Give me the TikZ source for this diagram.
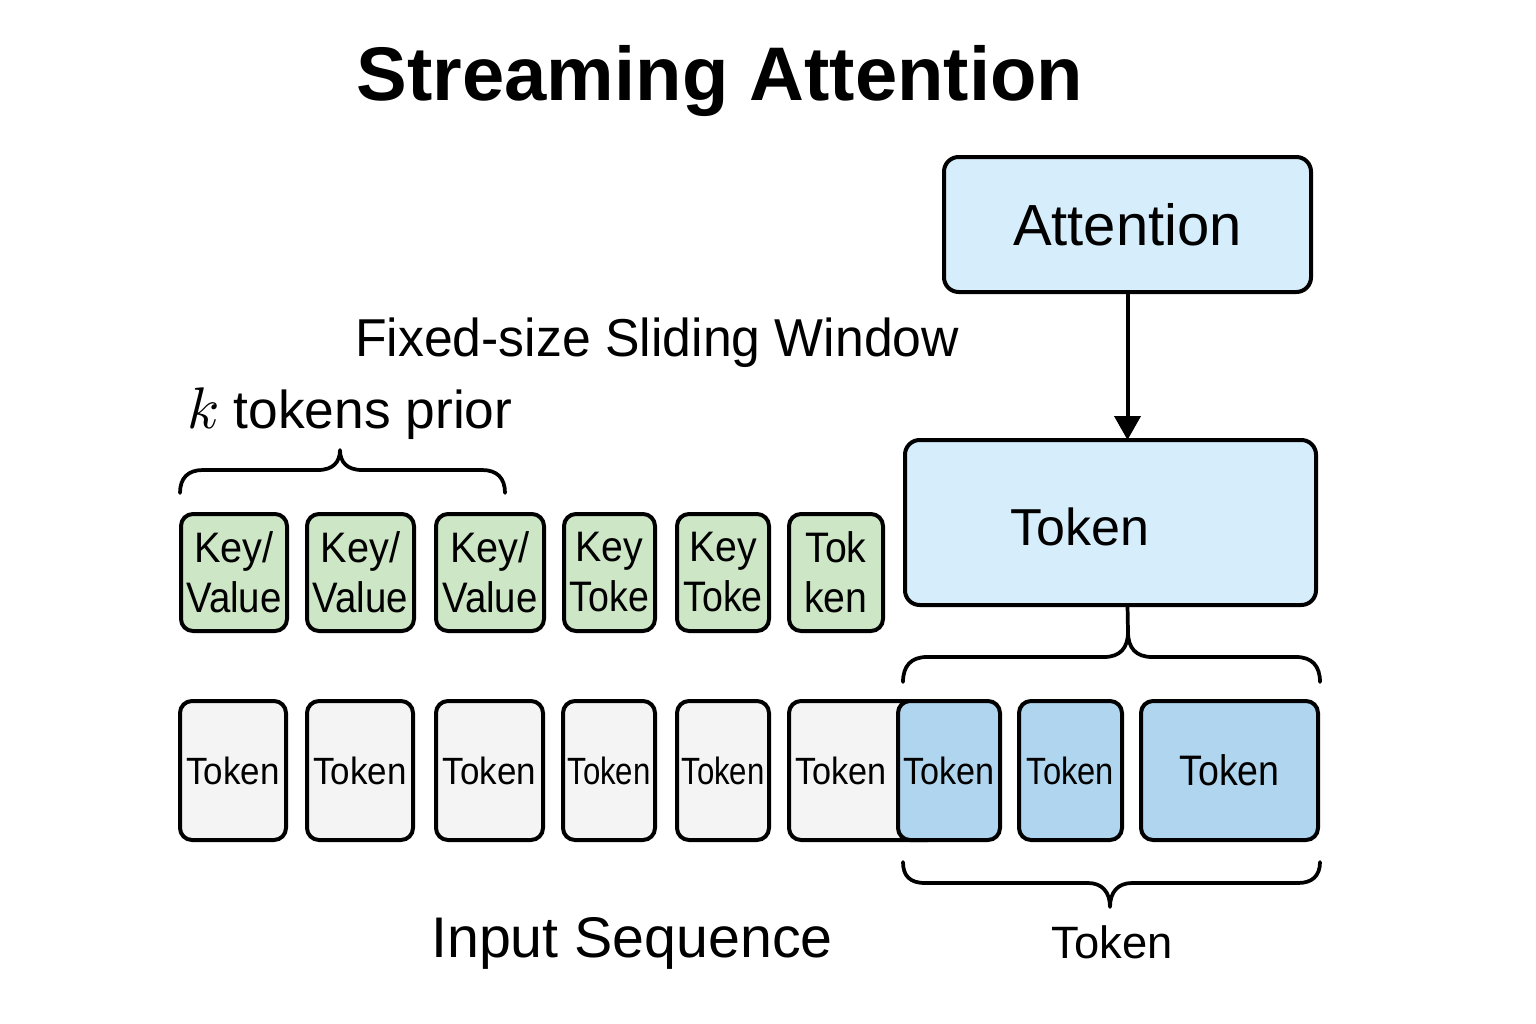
\documentclass[tikz,border=0pt]{standalone}
\usepackage{fontspec}
\usepackage{graphicx}
\setmainfont{Liberation Sans}
\newfontfamily\lmmath{Latin Modern Math}
\usetikzlibrary{arrows.meta}
\definecolor{attblue}{HTML}{D6EEFB}
\definecolor{tokblue}{HTML}{B0D6EF}
\definecolor{kvgreen}{HTML}{CDE6C6}
\definecolor{tokgray}{HTML}{F4F4F4}
\newcommand\nar[2]{\scalebox{#1}[1]{#2}}
\begin{document}
\begin{tikzpicture}[x=0.75pt,y=-0.75pt,
  boxbase/.style={draw=black, line width=3pt, inner sep=0pt, outer sep=0pt},
  bigbox/.style={boxbase, rounded corners=11pt, fill=attblue},
  kvbox/.style={boxbase, rounded corners=9pt, fill=kvgreen, minimum height=87.75pt, align=center,
    font=\fontsize{32pt}{37.5pt}\selectfont},
  graybox/.style={boxbase, rounded corners=9pt, fill=tokgray, minimum height=104.25pt,
    font=\fontsize{28.5pt}{32pt}\selectfont},
  bluebox/.style={boxbase, rounded corners=9pt, fill=tokblue, minimum height=104.25pt,
    font=\fontsize{28.5pt}{32pt}\selectfont},
  brace/.style={draw=black, line width=2.8pt, line cap=round, line join=round},
  conn/.style={draw=black, line width=3pt}
]
\useasboundingbox[fill=white] (0,0) rectangle (1536,1024);

% title
\node[anchor=base, inner sep=0pt, font=\fontsize{57pt}{64pt}\selectfont\bfseries] (title) at (720,101) {Streaming Attention};

% top boxes
\node[bigbox, minimum width=275.25pt, minimum height=101.25pt, font=\fontsize{43.5pt}{50pt}\selectfont] (att) at (1127.5,224.5) {Attention};
\node[bigbox, minimum width=308.25pt, minimum height=123.75pt,
  label={[font=\fontsize{39pt}{44pt}\selectfont, xshift=-23pt, yshift=-3.4pt]center:Token}] (tokbig) at (1110.5,522.5) {};

\draw[conn, -{Triangle[width=19.5pt,length=18pt]}] (att.south) -- (att.south |- tokbig.north);

% labels
\node[anchor=base west, inner sep=0pt, font=\fontsize{40pt}{48pt}\selectfont] (fixed) at (355,356) {\nar{0.97}{Fixed-size Sliding Window}};
\node[anchor=base west, inner sep=0pt, font=\fontsize{40pt}{48pt}\selectfont] (kprior) at (187,428) {{\lmmath\fontsize{44pt}{48pt}\selectfont 𝑘}\hspace{12pt}tokens prior};

% top brace over first three key/value boxes
\draw[brace] (180,493) .. controls (180,478) and (188,470) .. (203,470) -- (318,470)
  .. controls (333,470) and (340,462) .. (340,450)
  .. controls (340,462) and (347,470) .. (362,470) -- (482,470)
  .. controls (497,470) and (505,478) .. (505,493);

% key/value boxes
\node[kvbox, minimum width=79.5pt]  (g1) at (234,572.5) {\nar{0.93}{Key/}\\\nar{0.9}{Value}};
\node[kvbox, minimum width=80.25pt] (g2) at (360.5,572.5) {\nar{0.93}{Key/}\\\nar{0.9}{Value}};
\node[kvbox, minimum width=81pt]    (g3) at (490,572.5) {\nar{0.93}{Key/}\\\nar{0.9}{Value}};
\node[kvbox, minimum width=68.25pt] (g4) at (609.5,572.5) {\nar{0.92}{Key}\\\nar{0.88}{Toke}};
\node[kvbox, minimum width=69pt]    (g5) at (723,572.5) {\nar{0.92}{Key}\\\nar{0.88}{Toke}};
\node[kvbox, minimum width=70.5pt]  (g6) at (836,572.5) {\nar{0.92}{Tok}\\\nar{0.92}{ken}};

% token row
\node[graybox, minimum width=79.5pt]  (t1) at (233,770.5) {\nar{0.92}{Token}};
\node[graybox, minimum width=79.5pt]  (t2) at (360,770.5) {\nar{0.92}{Token}};
\node[graybox, minimum width=80.25pt] (t3) at (489.5,770.5) {\nar{0.92}{Token}};
\node[graybox, minimum width=69pt]    (t4) at (609,770.5) {\nar{0.82}{Token}};
\node[graybox, minimum width=69pt]    (t5) at (723,770.5) {\nar{0.82}{Token}};
\node[graybox, minimum width=113.25pt,
  label={[font=\fontsize{28.5pt}{32pt}\selectfont, xshift=-17.6pt]center:\nar{0.9}{Token}}] (t6) at (864.5,770.5) {};
\node[bluebox, minimum width=76.5pt]  (t7) at (949,770.5) {\nar{0.9}{Token}};
\node[bluebox, minimum width=77.25pt] (t8) at (1070.5,770.5) {\nar{0.86}{Token}};
\node[bluebox, minimum width=132.75pt, font=\fontsize{32pt}{36pt}\selectfont] (t9) at (1229.5,770.5) {\nar{0.88}{Token}};

% brace below the token box
\draw[brace] (att.south |- tokbig.south) -- (1128,632)
  .. controls (1128,648) and (1120,657) .. (1104,657) -- (927,657)
  .. controls (911,657) and (903,666) .. (903,682);
\draw[brace] (1128,632)
  .. controls (1128,648) and (1136,657) .. (1152,657) -- (1296,657)
  .. controls (1312,657) and (1320,666) .. (1320,682);

% bottom brace
\draw[brace] (903,862) .. controls (903,876) and (910,883) .. (925,883) -- (1088,883)
  .. controls (1102,883) and (1110,892) .. (1110,907)
  .. controls (1110,892) and (1118,883) .. (1132,883) -- (1298,883)
  .. controls (1312,883) and (1320,876) .. (1320,862);

\node[anchor=base west, inner sep=0pt, font=\fontsize{43pt}{50pt}\selectfont] (inseq) at (431,957) {Input Sequence};
\node[anchor=base, inner sep=0pt, font=\fontsize{34pt}{40pt}\selectfont] (botlabel) at (1112,958) {Token};
\end{tikzpicture}
\end{document}
